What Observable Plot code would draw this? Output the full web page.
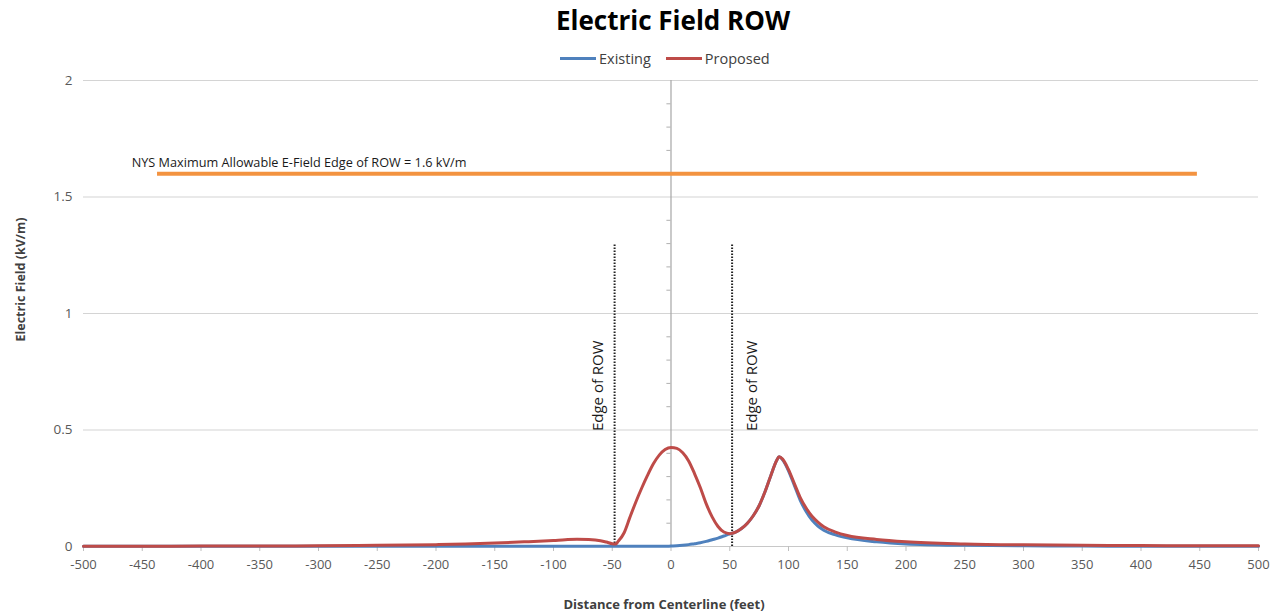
<!DOCTYPE html>
<html>
<head>
<meta charset="utf-8">
<script src="https://cdn.jsdelivr.net/npm/d3@7"></script>
<script src="https://cdn.jsdelivr.net/npm/@observablehq/plot@0.6"></script>
<style>
  html, body { margin: 0; padding: 0; background: #fff; }
  body { width: 1281px; height: 615px; overflow: hidden; font-family: "Open Sans", sans-serif; }
  #title { height: 40px; line-height: 40px; text-align: center; font-size: 26px; font-weight: bold; color: #000; padding-left: 65px; }
  #legend { height: 28px; margin-top: 4px; display: flex; justify-content: flex-start; align-items: center; font-size: 14.5px; color: #404040; padding-left: 560px; }
  #legend .item { display: flex; align-items: center; margin-right: 15px; }
  #legend .sw { width: 36px; height: 3px; margin-right: 3px; }
  #chart svg { display: block; }
</style>
</head>
<body>
<div id="title">Electric Field ROW</div>
<div id="legend"></div>
<div id="chart"></div>
<script>
// ---- data ----
const distance = [-500,-450,-400,-350,-300,-250,-200,-175,-150,-125,-100,-90,-80,-70,-60,-55,-50,-47,-45,-40,-35,-30,-25,-20,-15,-10,-5,0,5,10,15,20,25,30,35,40,45,50,52,55,60,65,70,75,80,85,90,92,95,100,105,110,115,120,125,130,140,150,175,200,250,300,350,400,450,500];
const proposed = [0.001,0.001,0.002,0.002,0.003,0.005,0.008,0.011,0.015,0.02,0.026,0.029,0.031,0.03,0.025,0.019,0.012,0.011,0.022,0.058,0.125,0.19,0.25,0.305,0.355,0.392,0.416,0.425,0.421,0.402,0.367,0.313,0.252,0.183,0.127,0.086,0.062,0.055,0.057,0.062,0.077,0.1,0.132,0.175,0.235,0.305,0.37,0.385,0.375,0.33,0.27,0.21,0.165,0.13,0.105,0.085,0.062,0.047,0.03,0.02,0.011,0.007,0.005,0.004,0.003,0.003];
const existing = [0.001,0.001,0.001,0.001,0.001,0.001,0.001,0.001,0.001,0.001,0.001,0.001,0.001,0.001,0.001,0.001,0.001,0.001,0.001,0.001,0.001,0.001,0.001,0.001,0.001,0.001,0.001,0.002,0.003,0.005,0.008,0.012,0.016,0.022,0.029,0.036,0.045,0.054,0.057,0.062,0.077,0.1,0.132,0.175,0.235,0.305,0.37,0.385,0.372,0.325,0.262,0.198,0.15,0.113,0.088,0.07,0.05,0.037,0.02,0.011,0.005,0.003,0.002,0.001,0.001,0.001];
const xTicks = [-500,-450,-400,-350,-300,-250,-200,-150,-100,-50,0,50,100,150,200,250,300,350,400,450,500];
const yTicks = [0,0.5,1,1.5,2];
const yMinor = [0.1,0.2,0.3,0.4,0.6,0.7,0.8,0.9,1.1,1.2,1.3,1.4,1.6,1.7,1.8,1.9];
const limitValue = 1.6;
const limitStart = -437, limitEnd = 448;
const limitLabel = "NYS Maximum Allowable E-Field Edge of ROW = 1.6 kV/m";
const rowEdges = [-48, 52];
const rowEdgeTop = 1.3;
const seriesNames = ["Existing", "Proposed"];
const seriesColors = ["#4F81BD", "#BE4B48"];

const rowsExisting = distance.map((d, i) => ({x: d, v: existing[i]}));
const rowsProposed = distance.map((d, i) => ({x: d, v: proposed[i]}));

// legend
const legend = document.getElementById("legend");
seriesNames.forEach((n, i) => {
  const it = document.createElement("div");
  it.className = "item";
  it.innerHTML = `<span class="sw" style="background:${seriesColors[i]}"></span><span>${n}</span>`;
  legend.appendChild(it);
});

const plot = Plot.plot({
  width: 1281,
  height: 543,
  marginTop: 8,
  marginBottom: 69,
  marginLeft: 83,
  marginRight: 23,
  style: {fontFamily: "Open Sans, sans-serif", background: "#fff"},
  x: {domain: [-500, 500]},
  y: {domain: [0, 2]},
  marks: [
    Plot.gridY(yTicks.filter(d => d > 0), {stroke: "#d4d4d4", strokeOpacity: 1, strokeWidth: 1.2}),
    Plot.ruleY([0], {stroke: "#c8c8c8", strokeWidth: 1.2}),
    Plot.ruleX([0], {y1: 0, y2: 2, stroke: "#a6a6a6", strokeWidth: 1.2}),
    Plot.ruleY(yMinor, {x1: -3.5, x2: 0, stroke: "#b0b0b0"}),
    Plot.axisX(xTicks, {tickSize: 5, tickPadding: 8, fontSize: 13, color: "#595959", stroke: "#bfbfbf", label: null, tickFormat: d => String(d)}),
    Plot.axisY(yTicks, {tickSize: 0, tickPadding: 11, fontSize: 13.5, color: "#595959", label: null, tickFormat: d => String(d)}),
    Plot.ruleY([limitValue], {x1: limitStart, x2: limitEnd, stroke: "#F39340", strokeWidth: 4}),
    Plot.text([limitLabel], {x: -459, y: limitValue, dy: -11, text: d => d, textAnchor: "start", fontSize: 12.7, fill: "#1a1a1a"}),
    Plot.ruleX(rowEdges, {y1: 0, y2: rowEdgeTop, stroke: "#222", strokeWidth: 2, strokeDasharray: "1.5,1.5"}),
    Plot.text(["Edge of ROW"], {x: rowEdges[0], y: 0.69, dx: -16, text: d => d, rotate: -90, fontSize: 15, fill: "#1a1a1a"}),
    Plot.text(["Edge of ROW"], {x: rowEdges[1], y: 0.69, dx: 20, text: d => d, rotate: -90, fontSize: 15, fill: "#1a1a1a"}),
    Plot.line(rowsExisting, {x: "x", y: "v", stroke: seriesColors[0], strokeWidth: 3, curve: "monotone-x"}),
    Plot.line(rowsProposed, {x: "x", y: "v", stroke: seriesColors[1], strokeWidth: 3, curve: "monotone-x"}),
    Plot.text(["Distance from Centerline (feet)"], {frameAnchor: "bottom", dy: 62, dx: -7, text: d => d, fontSize: 13, fontWeight: "bold", fill: "#404040"}),
    Plot.text(["Electric Field (kV/m)"], {frameAnchor: "left", textAnchor: "middle", dx: -63, dy: -34, rotate: -90, text: d => d, fontSize: 12.5, fontWeight: "bold", fill: "#404040"})
  ]
});
document.getElementById("chart").appendChild(plot);
</script>
</body>
</html>
